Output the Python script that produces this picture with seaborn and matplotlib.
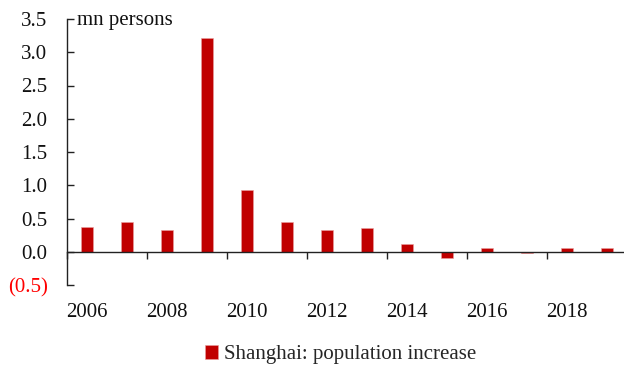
import matplotlib
matplotlib.use("Agg")
import matplotlib.pyplot as plt
import seaborn as sns
import pandas as pd
from matplotlib.ticker import FixedLocator, FuncFormatter

years = list(range(2006, 2020))
values = [0.37, 0.44, 0.32, 3.21, 0.93, 0.45, 0.33, 0.36, 0.12, -0.10, 0.05, -0.02, 0.06, 0.05]
series_name = "Shanghai: population increase"
unit_label = "mn persons"
y_ticks = [-0.5, 0.0, 0.5, 1.0, 1.5, 2.0, 2.5, 3.0, 3.5]

sns.set_style("white")
plt.rcParams["font.family"] = ["Liberation Serif", "DejaVu Serif"]

df = pd.DataFrame({"year": [str(y) for y in years], "value": values})

fig = plt.figure(figsize=(6.24, 3.67), dpi=100)
ax = fig.add_axes([67/624, 1 - 285/367, 1 - 67/624, (285 - 19)/367])

sns.barplot(data=df, x="year", y="value", color="#C00000", width=0.31,
            saturation=1, ax=ax, label=series_name, edgecolor="#E8A0A0", linewidth=0.4)

ax.set_xlim(-0.5, 13.425)
ax.set_ylim(-0.5, 3.5)
ax.set_xlabel("")
ax.set_ylabel("")

for s in ["top", "right"]:
    ax.spines[s].set_visible(False)
ax.spines["bottom"].set_position(("data", 0))
ax.spines["bottom"].set_color("#222222")
ax.spines["left"].set_color("#222222")
ax.spines["bottom"].set_linewidth(1.0)
ax.spines["left"].set_linewidth(1.0)

# y axis
ax.yaxis.set_major_locator(FixedLocator(y_ticks))
ax.yaxis.set_major_formatter(FuncFormatter(
    lambda v, p: f"({abs(v):.1f})" if v < 0 else f"{v:.1f}"))
ax.tick_params(axis="y", direction="in", length=5, width=1.0, color="#222222",
               labelsize=15, pad=14, left=True)
for lbl, v in zip(ax.get_yticklabels(), y_ticks):
    lbl.set_color("#FF0000" if v < 0 else "#111111")

# x axis: labels on even years, ticks on category boundaries
label_pos = [i for i, y in enumerate(years) if y % 2 == 0]
ax.xaxis.set_major_locator(FixedLocator(label_pos))
ax.set_xticklabels([str(years[i]) for i in label_pos])
ax.xaxis.set_minor_locator(FixedLocator([i - 0.5 for i in label_pos]))
ax.tick_params(axis="x", which="major", length=0, labelsize=15, pad=37, colors="#111111")
ax.tick_params(axis="x", which="minor", direction="out", length=5, width=1.0,
               color="#222222", bottom=True)

ax.text(10/557, 0.995, unit_label, transform=ax.transAxes, ha="left", va="center",
        fontsize=15, color="#111111")

handles, labels = ax.get_legend_handles_labels()
if ax.get_legend() is not None:
    ax.get_legend().remove()
fig.legend(handles, labels, loc="center", bbox_to_anchor=(0.546, 0.033),
           frameon=False, fontsize=15, handlelength=0.6, handleheight=0.6,
           handletextpad=0.3, borderpad=0)

fig.savefig("out.png", dpi=100)
